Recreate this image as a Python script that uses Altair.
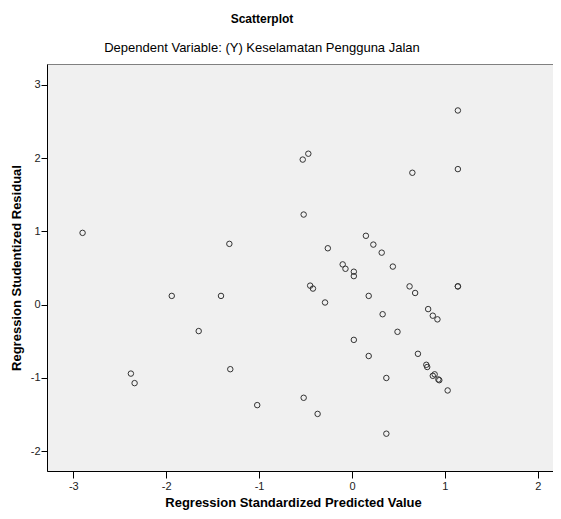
import altair as alt
import pandas as pd

pred = [-2.90, -1.94, -2.38, -2.34, -1.65, -1.41, -1.31, -1.02, -0.52, -0.37,
        -0.45, -0.42, -0.29, 0.02, 0.02, -0.10, -0.07, 0.02, 0.18, 0.18,
        0.33, 0.37, 0.37, 0.49, -0.53, -0.47, -0.52, -1.32, -0.26, 0.15,
        0.23, 0.32, 0.44, 1.14, 0.65, 1.14, 0.62, 0.68, 1.14, 1.14,
        0.82, 0.87, 0.92, 0.71, 0.80, 0.81, 0.87, 0.89, 0.93, 0.94, 1.03]
resid = [0.98, 0.12, -0.94, -1.07, -0.36, 0.12, -0.88, -1.37, -1.27, -1.49,
         0.26, 0.22, 0.03, 0.45, 0.39, 0.55, 0.49, -0.48, 0.12, -0.70,
         -0.13, -1.00, -1.76, -0.37, 1.98, 2.06, 1.23, 0.83, 0.77, 0.94,
         0.82, 0.71, 0.52, 2.65, 1.80, 1.85, 0.25, 0.16, 0.25, 0.25,
         -0.06, -0.15, -0.20, -0.67, -0.82, -0.85, -0.97, -0.95, -1.02, -1.03, -1.17]

x_ticks = [-3, -2, -1, 0, 1, 2]
y_ticks = [-2, -1, 0, 1, 2, 3]

df = pd.DataFrame({"x": pred, "y": resid})

FONT = "Liberation Sans"

chart = alt.Chart(df).mark_point(
    shape="circle", filled=False, size=30, stroke="#333333", strokeWidth=1, opacity=1
).encode(
    x=alt.X("x:Q",
            scale=alt.Scale(domain=[-3.283, 2.164], nice=False, zero=False),
            axis=alt.Axis(values=x_ticks, title="Regression Standardized Predicted Value",
                          labelExpr="'' + datum.value", grid=False, tickSize=7,
                          labelPadding=2, titleX=246, titlePadding=5)),
    y=alt.Y("y:Q",
            scale=alt.Scale(domain=[-2.269, 3.284], nice=False, zero=False),
            axis=alt.Axis(values=y_ticks, title="Regression Studentized Residual",
                          labelExpr="'' + datum.value", grid=False, tickSize=6,
                          labelPadding=1, titlePadding=7)),
).properties(
    width=506, height=407,
    autosize=alt.AutoSizeParams(type="none"),
    padding={"left": 39, "top": 56, "right": 0, "bottom": 40},
    title=alt.TitleParams(
        text="Scatterplot",
        subtitle="Dependent Variable: (Y) Keselamatan Pengguna Jalan",
        font=FONT, fontSize=12, fontWeight="bold", color="#000000",
        subtitleFont=FONT, subtitleFontSize=13, subtitleColor="#000000",
        subtitlePadding=16, anchor="middle", dx=-38, offset=8,
    ),
).configure_view(
    fill="#F0F0F0", stroke="#808080", strokeWidth=1
).configure_axis(
    labelFont=FONT, labelFontSize=11, labelColor="#222222",
    titleFont=FONT, titleFontSize=13, titleFontWeight="bold", titleColor="#000000",
    domainColor="#000000", domainWidth=1, tickColor="#000000", tickWidth=1,
)

chart.save("out.html", embed_options={"renderer": "svg", "actions": False})
